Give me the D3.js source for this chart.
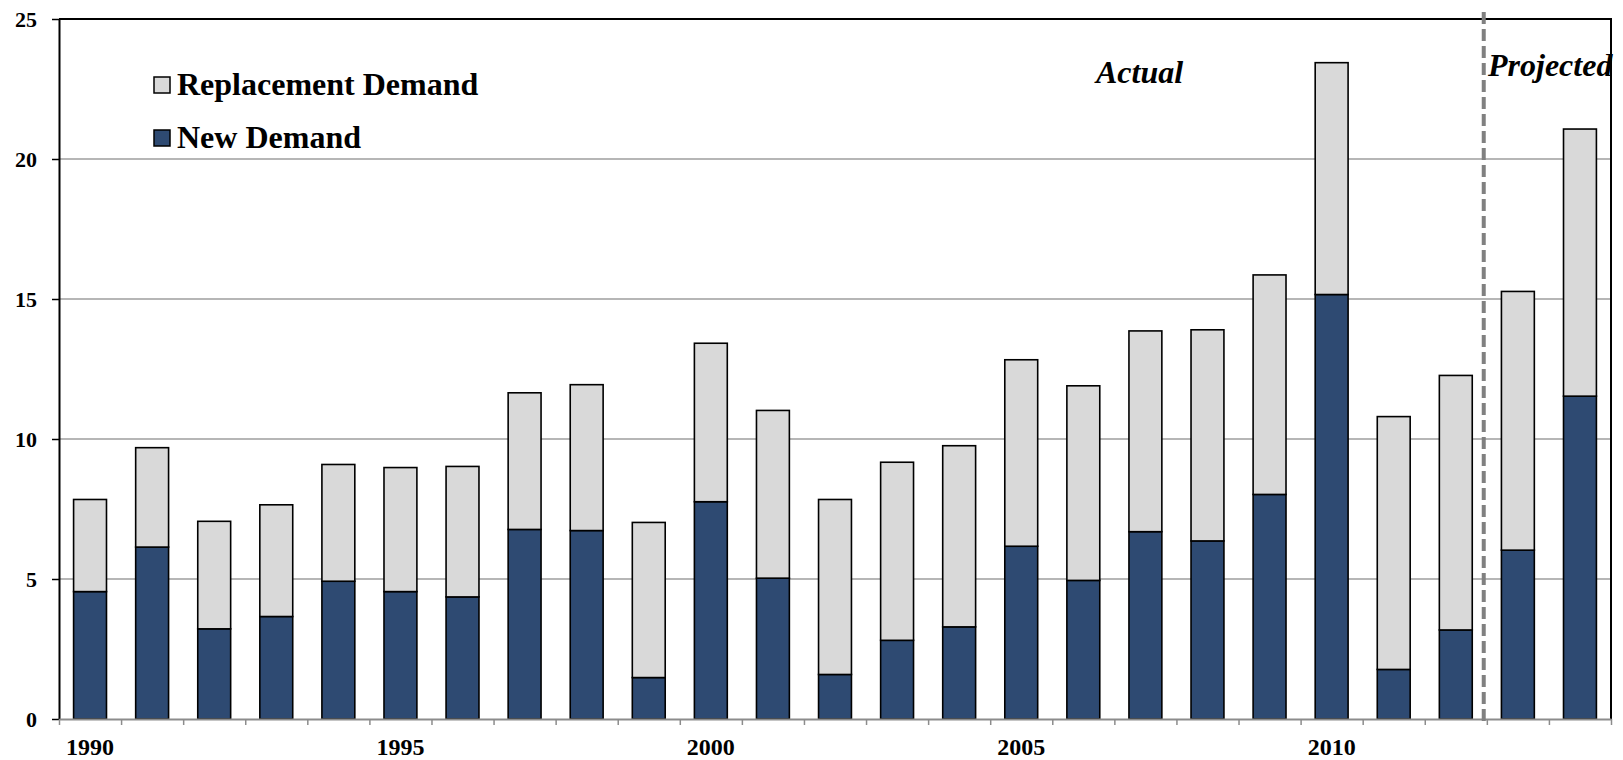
<!DOCTYPE html>
<html>
<head>
<meta charset="utf-8">
<script src="https://cdn.jsdelivr.net/npm/d3@7"></script>
<style>
  html, body { margin: 0; padding: 0; background: #fff; }
  svg { display: block; }
  text { font-family: "Liberation Serif", "Times New Roman", serif; font-weight: bold; fill: #000; }
</style>
</head>
<body>
<svg id="chart" width="1623" height="760"></svg>
<script>
// Annual demand, split into new demand and replacement demand
const years = [1990, 1991, 1992, 1993, 1994, 1995, 1996, 1997, 1998, 1999,
               2000, 2001, 2002, 2003, 2004, 2005, 2006, 2007, 2008, 2009,
               2010, 2011, 2012, 2013, 2014];
const newDemand = [4.55, 6.14, 3.22, 3.66, 4.92, 4.55, 4.36, 6.77, 6.73, 1.48,
                   7.76, 5.03, 1.59, 2.81, 3.29, 6.17, 4.95, 6.69, 6.36, 8.02,
                   15.16, 1.77, 3.18, 6.03, 11.53];
const totalDemand = [7.84, 9.69, 7.06, 7.65, 9.09, 8.98, 9.02, 11.65, 11.94, 7.02,
                     13.42, 11.02, 7.84, 9.17, 9.76, 12.83, 11.90, 13.86, 13.90, 15.86,
                     23.44, 10.80, 12.27, 15.27, 21.07];
const replacementDemand = totalDemand.map((t, i) => +(t - newDemand[i]).toFixed(2));
const yTicks = [0, 5, 10, 15, 20, 25];
const xLabelYears = [1990, 1995, 2000, 2005, 2010];
const seriesNames = ["New Demand", "Replacement Demand"];
const seriesColors = ["#2E4A72", "#D9D9D9"];
const splitYear = 2012.45; // divider between actual and projected years

const svg = d3.select("#chart");
const plotLeft = 59, plotRight = 1611, plotTop = 19, plotBottom = 719;

const x = d3.scaleBand().domain(years).range([plotLeft, plotRight]).paddingInner(0.47).paddingOuter(0.235);
const xYear = d3.scaleLinear().domain([years[0] - 0.5, years[years.length - 1] + 0.5]).range([plotLeft, plotRight]);
const y = d3.scaleLinear().domain([0, 25]).range([plotBottom, plotTop]);

// Horizontal gridlines
svg.append("g").selectAll("line")
  .data(yTicks.filter(v => v > 0 && v < 25))
  .join("line")
  .attr("x1", plotLeft).attr("x2", plotRight)
  .attr("y1", d => y(d)).attr("y2", d => y(d))
  .attr("stroke", "#9E9E9E").attr("stroke-width", 1.5);

// Stacked bars
const rows = years.map((yr, i) => ({ year: yr, "New Demand": newDemand[i], "Replacement Demand": replacementDemand[i] }));
const stacked = d3.stack().keys(seriesNames)(rows);
svg.append("g").selectAll("g")
  .data(stacked)
  .join("g")
  .attr("fill", (d, i) => seriesColors[i])
  .selectAll("rect")
  .data(d => d)
  .join("rect")
  .attr("x", d => x(d.data.year))
  .attr("width", x.bandwidth())
  .attr("y", d => y(d[1]))
  .attr("height", d => y(d[0]) - y(d[1]))
  .attr("stroke", "#000").attr("stroke-width", 1.6);

// Frame: top and right borders
svg.append("path")
  .attr("d", `M${plotLeft},${plotTop}H${plotRight}V${plotBottom}`)
  .attr("fill", "none").attr("stroke", "#000").attr("stroke-width", 2);

// Y axis
const yAxis = svg.append("g")
  .attr("transform", `translate(${plotLeft},0)`)
  .call(d3.axisLeft(y).tickValues(yTicks).tickSize(7).tickPadding(15).tickSizeOuter(0));
yAxis.select(".domain").attr("stroke", "#000").attr("stroke-width", 2);
yAxis.selectAll(".tick line").attr("stroke", "#000").attr("stroke-width", 1.5);
yAxis.selectAll(".tick text").style("font-size", "22px").style("font-family", "Liberation Serif").style("font-weight", "bold").attr("fill", "#000");

// X axis tick marks at category boundaries
const xTicks = svg.append("g")
  .attr("transform", `translate(0,${plotBottom})`)
  .call(d3.axisBottom(xYear).tickValues(d3.range(years[0] - 0.5, years[years.length - 1] + 1, 1)).tickSize(6).tickFormat("").tickSizeOuter(0));
xTicks.select(".domain").attr("stroke", "#8C8C8C").attr("stroke-width", 2);
xTicks.selectAll(".tick line").attr("stroke", "#8C8C8C").attr("stroke-width", 1.5);

// X axis labels every five years
const xLabels = svg.append("g")
  .attr("transform", `translate(0,${plotBottom})`)
  .call(d3.axisBottom(x).tickValues(xLabelYears).tickSize(0).tickPadding(19));
xLabels.select(".domain").remove();
xLabels.selectAll(".tick text").style("font-size", "24px").style("font-family", "Liberation Serif").style("font-weight", "bold").attr("fill", "#000");

// Actual / projected divider
svg.append("line")
  .attr("x1", xYear(splitYear)).attr("x2", xYear(splitYear))
  .attr("y1", 12).attr("y2", plotBottom + 7)
  .attr("stroke", "#808080").attr("stroke-width", 4)
  .attr("stroke-dasharray", "12,5");

svg.append("text").attr("x", 1096).attr("y", 83)
  .style("font-size", "32px").style("font-style", "italic").text("Actual");
svg.append("text").attr("x", 1488).attr("y", 76)
  .style("font-size", "32px").style("font-style", "italic").text("Projected");

// Legend
const legendItems = [
  { name: "Replacement Demand", color: seriesColors[1], y: 95 },
  { name: "New Demand", color: seriesColors[0], y: 148 }
];
const legend = svg.append("g").selectAll("g").data(legendItems).join("g");
legend.append("rect")
  .attr("x", 154).attr("y", d => d.y - 18)
  .attr("width", 16).attr("height", 16)
  .attr("fill", d => d.color).attr("stroke", "#000").attr("stroke-width", 1.5);
legend.append("text")
  .attr("x", 177).attr("y", d => d.y)
  .style("font-size", "32px").text(d => d.name);
</script>
</body>
</html>
